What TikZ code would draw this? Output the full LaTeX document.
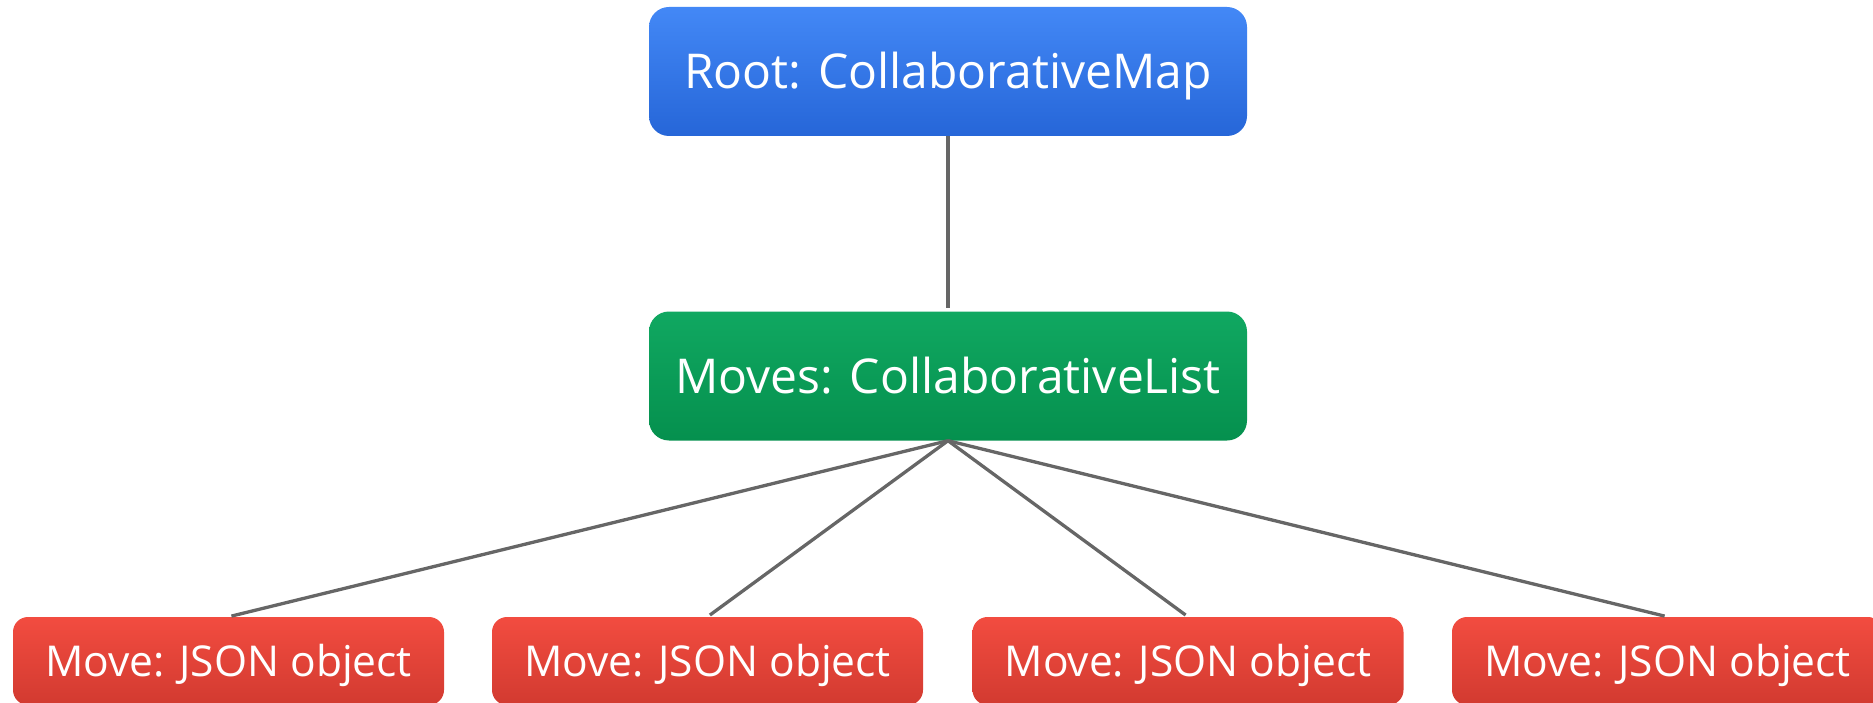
\documentclass[tikz,border=0pt]{standalone}
\usepackage{fontspec}
\setmainfont{Open Sans}
\definecolor{blueTop}{RGB}{67,136,246}
\definecolor{blueBot}{RGB}{38,102,216}
\definecolor{greenTop}{RGB}{16,168,97}
\definecolor{greenBot}{RGB}{5,144,78}
\definecolor{redTop}{RGB}{242,76,64}
\definecolor{redBot}{RGB}{210,58,48}
\definecolor{edgeGray}{RGB}{102,102,102}
\tikzset{
  box/.style={rectangle, inner sep=0pt, text=white, text depth=0pt, align=center},
  bigbox/.style={box, minimum width=598pt, minimum height=129pt,
    rounded corners=20pt, text height=34pt, font=\fontsize{48}{58}\selectfont},
  rootbox/.style={bigbox, top color=blueTop, bottom color=blueBot},
  listbox/.style={bigbox, top color=greenTop, bottom color=greenBot},
  movebox/.style={box, minimum width=431pt, minimum height=88pt,
    rounded corners=15pt, top color=redTop, bottom color=redBot,
    text height=30pt, font=\fontsize{42.5}{51}\selectfont},
  link/.style={draw=edgeGray, line width=3.3pt, shorten >=3pt}
}
\begin{document}
\begin{tikzpicture}[x=1pt, y=-1pt]
  \useasboundingbox (0,0) rectangle (1873,703);
  \node[rootbox] (root) at (948,71.5) {Root: CollaborativeMap};
  \node[listbox] (moves) at (948,376) {Moves: CollaborativeList};
  \node[movebox] (m1) at (228.5,661) {Move: JSON object};
  \node[movebox] (m2) at (707.5,661) {Move: JSON object};
  \node[movebox] (m3) at (1188,661) {Move: JSON object};
  \node[movebox] (m4) at (1667.5,661) {Move: JSON object};
  \draw[link] (root.south) -- (moves.north);
  \foreach \m in {m1,m2,m3,m4}
    \draw[link] (moves.south) -- (\m.north);
\end{tikzpicture}
\end{document}
